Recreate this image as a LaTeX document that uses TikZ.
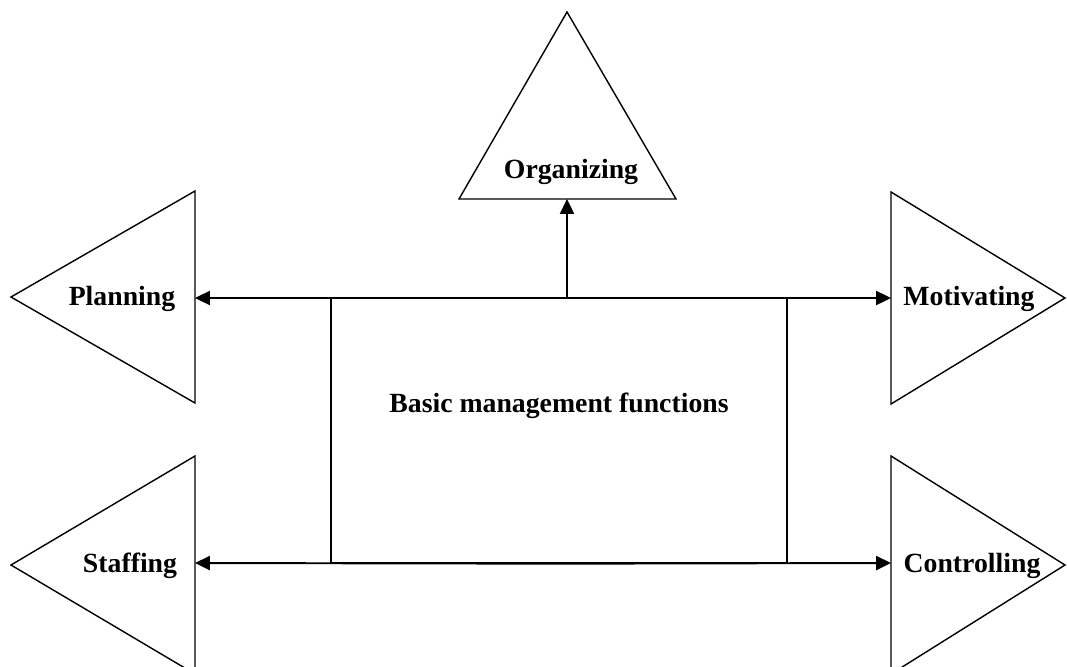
\documentclass[tikz,border=0pt]{standalone}
\usepackage{fontspec}
\setmainfont{Liberation Serif}
\usetikzlibrary{arrows.meta}
\begin{document}
\begin{tikzpicture}[x=0.02cm,y=-0.02cm]
    \tikzstyle{every node}+=[inner sep=0pt, font=\bfseries\fontsize{15.8}{19}\selectfont]
    \tikzstyle{tri}=[black, line width=0.8pt, line join=miter]
    \tikzstyle{link}=[black, line width=1.1pt, -{Triangle[length=8.5pt,width=8pt]}]
    \useasboundingbox (0,0) rectangle (1067,666);
    % triangles
    \draw [tri] (567,12) -- (676,199) -- (459,199) -- cycle;
    \draw [tri] (11,297) -- (195,191) -- (195,403) -- cycle;
    \draw [tri] (11,565) -- (195,456) -- (195,674) -- cycle;
    \draw [tri] (1065,298) -- (891,192) -- (891,404) -- cycle;
    \draw [tri] (1065,565) -- (891,456) -- (891,674) -- cycle;
    \coordinate (org) at (567,199);
    \coordinate (plan) at (195,298);
    \coordinate (staff) at (195,563);
    \coordinate (motiv) at (891,298);
    \coordinate (contr) at (891,563);
    \coordinate (top) at (567,298);
    % labels
    \node (organizing) at (571,172) {Organizing};
    \node (planning) at (122,299) {Planning};
    \node (staffing) at (130,566) {Staffing};
    \node (motivating) at (969,299) {Motivating};
    \node (controlling) at (972,566) {Controlling};
    % centre box
    \node (basic) [draw, line width=0.8pt, minimum width=9.12cm, minimum height=5.3cm,
        text depth=0pt] at (559,430.5) {};
    \node (basictext) at (559,406) {Basic management functions};
    % connectors
    \draw [link] (top) -- (org);
    \draw [link] (top) -- (plan);
    \draw [link] (top) -- (motiv);
    \draw [link] (basic.south) -- (staff);
    \draw [link] (basic.south) -- (contr);
\end{tikzpicture}
\end{document}
